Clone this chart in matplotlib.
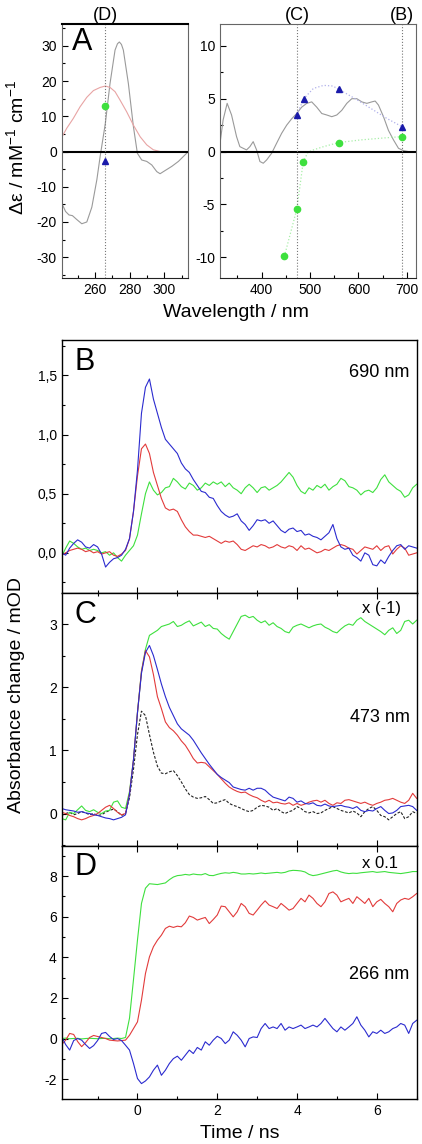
import numpy as np
import matplotlib
matplotlib.use('Agg')
import matplotlib.pyplot as plt
from matplotlib.ticker import MultipleLocator, FixedLocator
import matplotlib.transforms as mtransforms

plt.rcParams['font.family'] = ['Liberation Sans', 'DejaVu Sans']
plt.rcParams['mathtext.fontset'] = 'custom'
plt.rcParams['mathtext.rm'] = 'Liberation Sans'
plt.rcParams['mathtext.it'] = 'Liberation Sans:italic'
plt.rcParams['axes.unicode_minus'] = False

BLUE = '#2b2bcf'
RED = '#e23b3b'
GREEN = '#3ee03e'

# ---- panel A: spectra ----
cd_uv_nm = [241, 243, 245, 247, 249.5, 252.4, 255.3, 258.2, 261.1, 263, 266, 268.7, 271.6,
            273, 274.1, 275.3, 276.4, 279.3, 282.2, 284.5, 287, 289.9, 292.8, 295.7, 297.6,
            300.5, 304.4, 308.2, 312.1, 314]
cd_uv = [-14.8, -17.0, -18.0, -18.2, -19.3, -20.5, -20.0, -15.8, -8.0, -1.4, 8.0, 19.3, 28.8,
         30.6, 31.1, 30.4, 28.8, 19.3, 7.1, -0.5, -2.4, -2.8, -3.8, -5.7, -6.3,
         -5.4, -4.2, -2.8, -0.9, 0.0]
abs_uv_nm = [241, 243.7, 247.5, 251.4, 255.3, 259.1, 263, 266, 268.7, 271.6, 274.5, 278.3,
             282.2, 286.1, 289.9, 293.7, 297.6, 301.5]
abs_uv = [4.2, 6.6, 9.4, 12.7, 15.4, 17.3, 18.2, 18.6, 18.2, 17.0, 14.6, 11.3,
          7.5, 4.2, 1.9, 0.5, 0.0, 0.0]
cd_vis_nm = [315, 320.5, 328.8, 337.9, 348.2, 355, 362, 368.9, 375.8, 382.6, 389.6, 396.5,
             403.4, 410.4, 420.7, 431, 441.4, 451.8, 462.1, 472.5, 482.8, 493.2, 503.5, 513.9,
             524.3, 534.6, 545, 555.3, 565.6, 576, 586.3, 596.7, 607, 617.4, 627.7, 634.6,
             641.4, 651.8, 662.1, 672.5, 682.8, 693.2, 703.5, 713.9]
cd_vis = [1.1, 3.0, 4.56, 3.46, 1.42, 0.47, 0.31, 0.16, 0.47, 0.94, 0.16, -0.94,
          -1.10, -0.79, -0.16, 0.79, 1.73, 2.5, 3.1, 3.6, 4.2, 4.56, 4.7, 4.2,
          3.6, 3.46, 3.3, 3.46, 3.9, 4.56, 5.0, 5.0, 4.7, 4.56, 4.7, 4.78,
          4.4, 3.3, 2.0, 1.1, 0.31, 0.09, 0.0, 0.0]

uv_marker_nm = [266]
uv_tri = [-2.8]
uv_dot = [12.9]
tri_nm = [473, 487, 559, 690]
tri_val = [3.5, 5.0, 5.9, 2.36]
tri_fit_nm = [473, 487, 507, 528, 547, 559, 597, 632, 660, 690]
tri_fit = [3.5, 5.0, 5.97, 6.26, 6.2, 5.9, 4.9, 3.9, 3.1, 2.36]
dot_nm = [447, 473, 486, 559, 690]
dot_val = [-9.9, -5.4, -0.94, 0.85, 1.42]
dot_fit_nm = [447, 473, 486, 496, 507, 528, 559, 604, 645, 690]
dot_fit = [-9.9, -5.4, -0.94, -0.05, 0.16, 0.47, 0.85, 1.1, 1.26, 1.42]

probe_uv = [266]
probe_vis = [473, 690]
probe_uv_labels = ['(D)']
probe_vis_labels = ['(C)', '(B)']

# ---- panels B-D: kinetics, time grid in ns ----
t_ns = np.round(np.arange(-19, 71) / 10, 1)

b_blue = [0.00, -0.02, 0.04, 0.08, 0.11, 0.09, 0.05, 0.04, 0.07, 0.05,
          -0.01, -0.12, -0.08, -0.05, -0.04, -0.02, 0.03, 0.12, 0.35, 0.70,
          1.18, 1.40, 1.47, 1.30, 1.18, 1.06, 0.96, 0.92, 0.88, 0.84,
          0.76, 0.71, 0.68, 0.62, 0.57, 0.52, 0.51, 0.47, 0.46, 0.40,
          0.35, 0.32, 0.30, 0.31, 0.33, 0.27, 0.24, 0.19, 0.23, 0.28,
          0.27, 0.28, 0.25, 0.27, 0.23, 0.19, 0.17, 0.20, 0.21, 0.18,
          0.19, 0.15, 0.16, 0.14, 0.13, 0.11, 0.14, 0.17, 0.24, 0.12,
          0.05, 0.03, 0.04, -0.02, -0.04, -0.07, 0.00, -0.02, -0.10, -0.11,
          -0.06, -0.09, -0.03, 0.02, 0.06, 0.07, 0.03, 0.06, 0.05, 0.04]
b_red = [-0.02, 0.00, 0.02, 0.03, 0.04, 0.03, 0.01, 0.02, 0.00, 0.01,
         -0.01, 0.00, 0.01, -0.02, -0.03, -0.01, 0.02, 0.12, 0.35, 0.65,
         0.88, 0.92, 0.84, 0.68, 0.57, 0.46, 0.38, 0.36, 0.37, 0.35,
         0.28, 0.22, 0.18, 0.15, 0.15, 0.14, 0.13, 0.14, 0.12, 0.10,
         0.08, 0.10, 0.09, 0.10, 0.07, 0.03, 0.02, 0.04, 0.06, 0.05,
         0.07, 0.06, 0.04, 0.05, 0.07, 0.05, 0.04, 0.06, 0.05, 0.02,
         0.06, 0.03, 0.04, 0.02, 0.00, 0.01, 0.03, 0.02, 0.04, 0.06,
         0.07, 0.06, 0.04, 0.03, -0.01, 0.02, 0.05, 0.04, 0.03, 0.06,
         0.02, 0.05, 0.06, -0.01, 0.03, 0.06, 0.04, -0.02, -0.01, 0.00]
b_green = [-0.03, 0.04, 0.10, 0.08, 0.05, 0.03, 0.04, 0.02, 0.03, 0.02,
           0.00, 0.01, -0.02, 0.00, -0.04, -0.07, -0.02, 0.02, 0.06, 0.15,
           0.33, 0.50, 0.60, 0.53, 0.49, 0.51, 0.55, 0.56, 0.63, 0.60,
           0.56, 0.54, 0.59, 0.57, 0.53, 0.55, 0.59, 0.57, 0.60, 0.58,
           0.60, 0.56, 0.59, 0.55, 0.53, 0.50, 0.55, 0.58, 0.55, 0.51,
           0.55, 0.56, 0.53, 0.55, 0.57, 0.60, 0.64, 0.68, 0.64, 0.57,
           0.52, 0.50, 0.55, 0.53, 0.57, 0.55, 0.58, 0.53, 0.56, 0.58,
           0.63, 0.61, 0.56, 0.55, 0.53, 0.49, 0.52, 0.53, 0.51, 0.55,
           0.62, 0.66, 0.60, 0.57, 0.54, 0.52, 0.47, 0.49, 0.55, 0.58]

c_blue = [0.08, 0.06, 0.05, 0.04, 0.02, 0.03, 0.01, 0.00, -0.02, -0.03,
          -0.05, -0.07, -0.08, -0.10, -0.08, -0.06, -0.02, 0.30, 0.85, 1.60,
          2.22, 2.55, 2.66, 2.50, 2.28, 2.05, 1.85, 1.68, 1.55, 1.42,
          1.34, 1.29, 1.24, 1.16, 1.06, 0.96, 0.87, 0.78, 0.70, 0.62,
          0.57, 0.53, 0.49, 0.42, 0.40, 0.38, 0.37, 0.40, 0.37, 0.40,
          0.40, 0.37, 0.31, 0.26, 0.24, 0.22, 0.20, 0.26, 0.24, 0.18,
          0.20, 0.16, 0.15, 0.17, 0.13, 0.12, 0.15, 0.12, 0.11, 0.12,
          0.13, 0.11, 0.10, 0.08, 0.11, 0.05, 0.03, 0.05, 0.04, 0.08,
          0.11, 0.05, 0.00, 0.01, 0.05, 0.11, 0.12, 0.13, 0.11, 0.05]
c_red = [0.02, 0.00, -0.03, -0.05, -0.08, -0.10, -0.08, -0.05, -0.03, 0.00,
         0.05, 0.10, 0.13, 0.08, 0.02, -0.02, 0.00, 0.32, 0.85, 1.60,
         2.25, 2.58, 2.48, 2.20, 1.85, 1.66, 1.45, 1.36, 1.31, 1.24,
         1.15, 1.08, 0.98, 0.87, 0.80, 0.81, 0.80, 0.74, 0.68, 0.62,
         0.55, 0.48, 0.42, 0.38, 0.35, 0.33, 0.34, 0.30, 0.27, 0.25,
         0.21, 0.18, 0.21, 0.17, 0.18, 0.16, 0.15, 0.17, 0.13, 0.16,
         0.13, 0.15, 0.18, 0.20, 0.21, 0.18, 0.21, 0.16, 0.13, 0.17,
         0.16, 0.21, 0.22, 0.20, 0.18, 0.16, 0.18, 0.15, 0.13, 0.16,
         0.18, 0.21, 0.22, 0.24, 0.21, 0.18, 0.16, 0.21, 0.32, 0.24]
c_green = [-0.08, -0.10, 0.02, 0.00, 0.06, 0.12, 0.05, 0.03, 0.06, 0.02,
           0.00, 0.04, 0.05, 0.18, 0.20, 0.10, 0.08, 0.35, 0.85, 1.60,
           2.25, 2.60, 2.82, 2.86, 2.90, 2.96, 2.98, 3.00, 3.04, 2.96,
           2.98, 3.02, 3.05, 2.97, 3.00, 3.03, 2.96, 2.99, 2.93, 2.92,
           2.85, 2.80, 2.76, 2.88, 3.00, 3.12, 3.14, 3.10, 3.12, 3.06,
           3.02, 3.05, 2.98, 3.02, 2.96, 2.93, 2.88, 2.86, 2.95, 2.98,
           3.00, 2.97, 2.94, 2.97, 2.99, 3.00, 2.95, 2.92, 2.88, 2.86,
           2.92, 2.97, 3.00, 2.98, 3.06, 3.10, 3.04, 3.00, 2.96, 2.92,
           2.88, 2.83, 2.90, 2.94, 2.85, 2.90, 3.04, 3.06, 3.00, 3.06]
c_dash = [-0.03, 0.00, 0.02, -0.02, 0.00, 0.03, 0.01, -0.02, 0.00, -0.03,
          -0.02, 0.02, 0.05, 0.07, 0.03, -0.03, 0.00, 0.25, 0.70, 1.25,
          1.62, 1.55, 1.25, 0.97, 0.75, 0.64, 0.63, 0.66, 0.68, 0.60,
          0.50, 0.39, 0.30, 0.26, 0.24, 0.25, 0.27, 0.22, 0.16, 0.17,
          0.20, 0.22, 0.16, 0.13, 0.11, 0.08, 0.05, 0.03, 0.05, 0.10,
          0.13, 0.12, 0.10, 0.05, 0.08, 0.03, 0.00, 0.03, 0.05, 0.11,
          0.08, 0.03, 0.01, 0.03, 0.00, 0.01, 0.05, 0.08, 0.11, 0.08,
          0.05, 0.03, 0.01, 0.04, 0.01, -0.05, 0.03, 0.08, 0.11, 0.05,
          -0.03, -0.05, -0.10, -0.05, 0.00, 0.03, -0.08, -0.05, 0.03, 0.00]

d_blue = [0.08, -0.30, -0.57, -0.10, 0.00, -0.08, -0.30, -0.49, -0.35, -0.10,
          0.25, 0.30, 0.10, -0.05, 0.00, -0.10, -0.33, -0.57, -1.23, -1.97,
          -2.22, -2.09, -1.89, -1.56, -1.31, -1.81, -1.56, -1.23, -0.99, -0.87,
          -1.07, -0.82, -0.57, -0.74, -0.44, -0.57, -0.16, -0.33, -0.08, 0.11,
          0.00, -0.25, -0.08, 0.33, 0.16, -0.08, -0.41, 0.00, 0.08, 0.05,
          0.49, 0.74, 0.49, 0.57, 0.49, 0.74, 0.41, 0.57, 0.49, 0.57,
          0.66, 0.49, 0.57, 0.66, 0.57, 0.74, 0.99, 0.74, 0.49, 0.33,
          0.57, 0.41, 0.57, 0.74, 1.07, 0.66, 0.41, 0.08, 0.33, 0.25,
          0.41, 0.25, 0.33, 0.49, 0.57, 0.74, 0.66, 0.25, 0.74, 0.90]
d_red = [-0.30, -0.08, 0.25, 0.20, -0.15, -0.40, -0.20, 0.05, 0.15, 0.10,
         0.05, 0.00, -0.08, -0.10, -0.12, -0.10, -0.08, 0.16, 0.49, 0.82,
         1.89, 3.20, 4.02, 4.52, 4.84, 5.09, 5.42, 5.53, 5.47, 5.53,
         5.50, 5.70, 6.03, 5.96, 5.83, 5.90, 5.96, 5.66, 5.86, 6.08,
         6.52, 6.49, 6.24, 5.99, 6.24, 6.65, 6.49, 6.16, 6.08, 6.32,
         6.57, 6.78, 6.57, 6.49, 6.40, 6.65, 6.49, 6.32, 6.40, 6.65,
         6.90, 6.73, 7.06, 6.90, 6.65, 6.49, 6.73, 7.14, 7.22, 7.06,
         6.73, 6.82, 6.90, 6.65, 6.98, 6.82, 6.65, 6.90, 6.49, 6.73,
         6.85, 6.65, 6.49, 6.24, 6.65, 6.82, 6.90, 6.85, 6.98, 7.14]
d_green = [0.00, 0.02, -0.01, 0.00, 0.01, -0.02, 0.00, 0.01, 0.00, -0.01,
           0.00, 0.01, -0.01, 0.00, 0.02, 0.00, 0.05, 1.00, 2.90, 4.85,
           6.65, 7.40, 7.62, 7.60, 7.58, 7.62, 7.66, 7.82, 7.95, 8.02,
           8.04, 8.08, 8.05, 8.10, 8.07, 8.06, 8.12, 8.03, 8.02, 8.08,
           8.13, 8.16, 8.14, 8.18, 8.15, 8.10, 8.10, 8.12, 8.10, 8.12,
           8.15, 8.12, 8.14, 8.16, 8.18, 8.15, 8.18, 8.25, 8.28, 8.27,
           8.25, 8.20, 8.08, 8.02, 8.05, 8.10, 8.15, 8.20, 8.25, 8.28,
           8.20, 8.15, 8.12, 8.14, 8.13, 8.16, 8.18, 8.20, 8.22, 8.18,
           8.20, 8.22, 8.18, 8.16, 8.14, 8.12, 8.15, 8.18, 8.22, 8.22]

b_ticks = [0.0, 0.5, 1.0, 1.5]
b_ticklabels = ['0,0', '0,5', '1,0', '1,5']

fig = plt.figure(figsize=(4.22, 11.44), dpi=100)


def style_ticks(ax):
    ax.tick_params(which='both', direction='in', labelsize=10, width=0.8)
    ax.tick_params(which='major', length=4)
    ax.tick_params(which='minor', length=2)


# panel A, UV part
axl = fig.add_axes([0.1462, 0.7570, 0.3000, 0.2220])
axl.plot(cd_uv_nm, cd_uv, color='#9a9a9a', lw=0.8)
axl.plot(abs_uv_nm, abs_uv, color='#e8a4a4', lw=0.8)
axl.axhline(0, color='black', lw=1.5)
for wl, lab in zip(probe_uv, probe_uv_labels):
    axl.axvline(wl, color='#777777', ls=':', lw=0.8)
    axl.text(wl, 1.035, lab, transform=mtransforms.blended_transform_factory(axl.transData, axl.transAxes),
             ha='center', va='center', fontsize=13)
axl.plot(uv_marker_nm, uv_dot, 'o', color=GREEN, ms=4.5)
axl.plot(uv_marker_nm, uv_tri, '^', color='#1a1aaa', ms=5)
axl.set_xlim(240.8, 313.9)
axl.set_ylim(-35.9, 36.2)
axl.xaxis.set_major_locator(FixedLocator([260, 280, 300]))
axl.xaxis.set_minor_locator(MultipleLocator(10))
axl.yaxis.set_major_locator(MultipleLocator(10))
axl.yaxis.set_minor_locator(MultipleLocator(5))
style_ticks(axl)
for s in axl.spines.values():
    s.set_color('#666666')
    s.set_linewidth(0.8)
axl.spines['top'].set_color('black')
axl.spines['top'].set_linewidth(1.5)
axl.spines['bottom'].set_color('#222222')
axl.text(0.08, 0.93, 'A', transform=axl.transAxes, fontsize=22, ha='left', va='center')

# panel A, visible part
axr = fig.add_axes([0.5213, 0.7570, 0.4645, 0.2220])
axr.plot(cd_vis_nm, cd_vis, color='#9a9a9a', lw=0.8)
axr.plot(tri_fit_nm, tri_fit, color='#b0b0ea', ls=':', lw=0.9)
axr.plot(dot_fit_nm, dot_fit, color='#a8eea8', ls=':', lw=0.9)
axr.axhline(0, color='black', lw=1.5)
for wl, lab in zip(probe_vis, probe_vis_labels):
    axr.axvline(wl, color='#777777', ls=':', lw=0.8)
    axr.text(wl, 1.035, lab, transform=mtransforms.blended_transform_factory(axr.transData, axr.transAxes),
             ha='center', va='center', fontsize=13)
axr.plot(tri_nm, tri_val, '^', color='#1a1aaa', ms=5)
axr.plot(dot_nm, dot_val, 'o', color=GREEN, ms=4.5)
axr.set_xlim(314, 719)
axr.set_ylim(-11.95, 12.06)
axr.xaxis.set_major_locator(MultipleLocator(100))
axr.xaxis.set_minor_locator(MultipleLocator(50))
axr.yaxis.set_major_locator(MultipleLocator(5))
axr.yaxis.set_minor_locator(MultipleLocator(2.5))
style_ticks(axr)
for s in axr.spines.values():
    s.set_color('#666666')
    s.set_linewidth(0.8)
axr.spines['bottom'].set_color('#222222')

fig.text(0.038, 0.8715, 'Δε / mM$^{-1}$ cm$^{-1}$', rotation=90, ha='center', va='center', fontsize=14)
fig.text(0.559, 0.7264, 'Wavelength / nm', ha='center', va='center', fontsize=14)

# kinetic panels
ax_b = fig.add_axes([0.1462, 0.4816, 0.8412, 0.2212])
ax_c = fig.add_axes([0.1462, 0.2607, 0.8412, 0.2209])
ax_d = fig.add_axes([0.1462, 0.0393, 0.8412, 0.2214])

ax_b.plot(t_ns, b_green, color=GREEN, lw=0.8)
ax_b.plot(t_ns, b_red, color=RED, lw=0.8)
ax_b.plot(t_ns, b_blue, color=BLUE, lw=0.8)
ax_b.set_ylim(-0.34, 1.80)
ax_b.yaxis.set_major_locator(FixedLocator(b_ticks))
ax_b.set_yticklabels(b_ticklabels)
ax_b.yaxis.set_minor_locator(MultipleLocator(0.25))

ax_c.plot(t_ns, c_dash, color='#222222', lw=0.8, ls=(0, (2.5, 1.5)))
ax_c.plot(t_ns, c_green, color=GREEN, lw=0.8)
ax_c.plot(t_ns, c_red, color=RED, lw=0.8)
ax_c.plot(t_ns, c_blue, color=BLUE, lw=0.8)
ax_c.set_ylim(-0.51, 3.49)
ax_c.yaxis.set_major_locator(MultipleLocator(1))
ax_c.yaxis.set_minor_locator(MultipleLocator(0.5))

ax_d.plot(t_ns, d_green, color=GREEN, lw=0.8)
ax_d.plot(t_ns, d_red, color=RED, lw=0.8)
ax_d.plot(t_ns, d_blue, color=BLUE, lw=0.8)
ax_d.set_ylim(-2.98, 9.49)
ax_d.yaxis.set_major_locator(MultipleLocator(2))
ax_d.yaxis.set_minor_locator(MultipleLocator(1))

for ax, letter in zip([ax_b, ax_c, ax_d], ['B', 'C', 'D']):
    ax.set_xlim(-1.9, 7.0)
    ax.xaxis.set_major_locator(MultipleLocator(2))
    ax.xaxis.set_minor_locator(MultipleLocator(1))
    style_ticks(ax)
    for s in ax.spines.values():
        s.set_color('black')
        s.set_linewidth(1.0)
    ax.text(0.035, 0.915, letter, transform=ax.transAxes, fontsize=22, ha='left', va='center')
ax_c.tick_params(which='both', top=True)
ax_d.tick_params(which='both', top=True)
ax_b.tick_params(labelbottom=False)
ax_c.tick_params(labelbottom=False)

ax_b.text(0.98, 0.87, '690 nm', transform=ax_b.transAxes, ha='right', va='center', fontsize=13)
ax_c.text(0.98, 0.508, '473 nm', transform=ax_c.transAxes, ha='right', va='center', fontsize=13)
ax_c.text(0.955, 0.94, 'x (-1)', transform=ax_c.transAxes, ha='right', va='center', fontsize=12)
ax_d.text(0.98, 0.492, '266 nm', transform=ax_d.transAxes, ha='right', va='center', fontsize=13)
ax_d.text(0.948, 0.93, 'x 0.1', transform=ax_d.transAxes, ha='right', va='center', fontsize=12)

fig.text(0.038, 0.3925, 'Absorbance change / mOD', rotation=90, ha='center', va='center', fontsize=14)
fig.text(0.567, 0.0096, 'Time / ns', ha='center', va='center', fontsize=14)

fig.savefig('out.png', dpi=100)
